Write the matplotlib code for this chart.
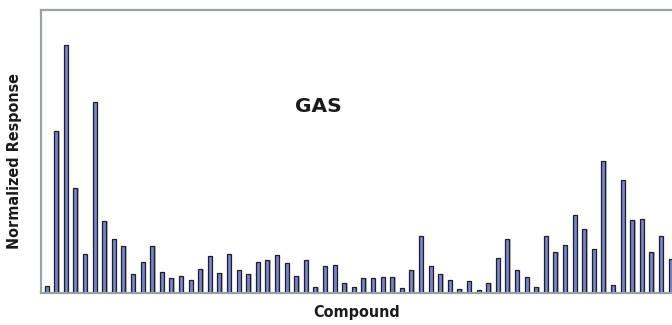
import numpy as np
import matplotlib
matplotlib.use("Agg")
import matplotlib.pyplot as plt

# bar heights (tallest bar = 100)
heights_px = [7, 162, 248, 105, 39, 191, 72, 54, 47, 19, 31, 47, 21, 15, 17, 13,
              24, 37, 20, 39, 23, 19, 31, 33, 38, 30, 17, 33, 6, 27, 28, 10,
              6, 15, 15, 16, 16, 5, 23, 57, 27, 19, 13, 4, 12, 3.5, 10, 35,
              54, 23, 16, 6, 57, 41, 48, 78, 64, 44, 132, 8, 113, 73, 74, 41,
              57, 34]
response = [h / 2.48 for h in heights_px]
compounds = np.arange(len(response))

bar_color = "#7a83c6"
frame_color = "#9aa0a5"

fig = plt.figure(figsize=(6.72, 3.25), dpi=100)
# axes runs past the right edge of the picture, as in the reference
ax = fig.add_axes([41 / 672, 32 / 325, 650 / 672, 283 / 325])

# soft grey shadow on the right side of each bar
ax.bar(compounds + 0.13, response, width=0.42, color="#b8b8b8",
       edgecolor="none", zorder=1)
ax.bar(compounds, response, width=0.42, color=bar_color,
       edgecolor="#1e1e28", linewidth=0.9, zorder=2)

ax.set_xlim(-0.59, -0.59 + 650 / 9.6)
ax.set_ylim(0, 283 / 2.48)
ax.set_xticks([])
ax.set_yticks([])
for side in ["left", "top", "bottom", "right"]:
    ax.spines[side].set_color(frame_color)
    ax.spines[side].set_linewidth(1.6)

ax.text(318, 325 - 106, "GAS", transform=None, fontsize=14.5, fontweight="bold",
        family="DejaVu Sans", ha="center", va="center", color="#1a1a1a")

fig.text(15 / 672, 1 - 161 / 325, "Normalized Response", rotation=90,
         ha="center", va="center", fontsize=11.5, fontweight="bold",
         fontstretch="condensed", family="DejaVu Sans", color="#1a1a1a")
fig.text(357 / 672, 1 - 313 / 325, "Compound", ha="center", va="center",
         fontsize=11.5, fontweight="bold", fontstretch="condensed",
         family="DejaVu Sans", color="#1a1a1a")

fig.savefig("out.png", dpi=100)
